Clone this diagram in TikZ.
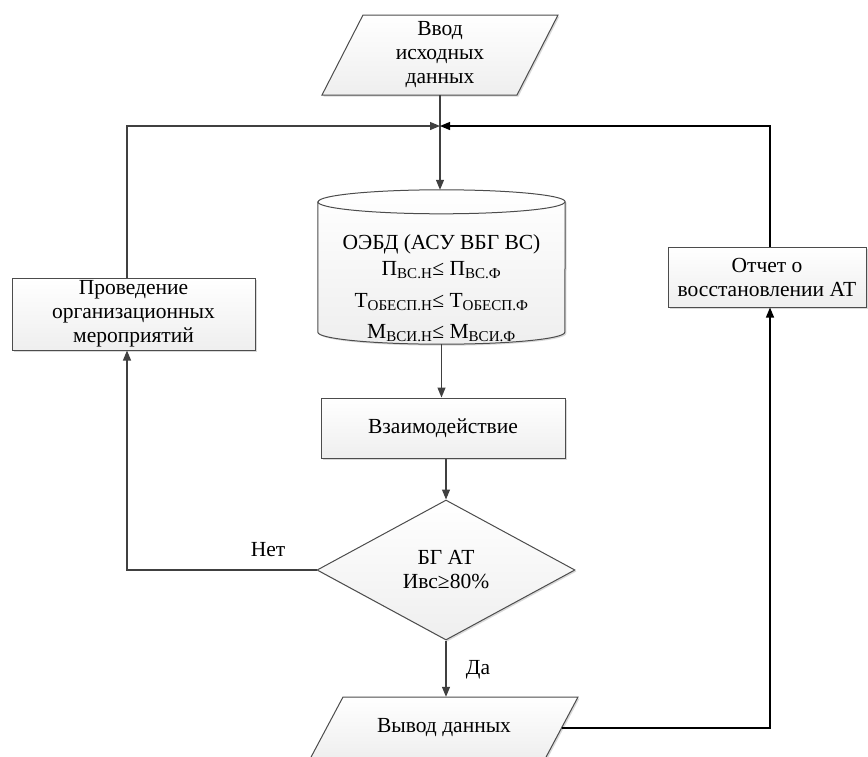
\documentclass[tikz,border=0pt]{standalone}
\usepackage{fontspec}
\setmainfont{Liberation Serif}
\usetikzlibrary{shapes.geometric, arrows.meta, shadows, calc}

\newcommand{\fsz}{\fontsize{21.5}{24}\selectfont}

\begin{document}
\begin{tikzpicture}[x=1pt, y=-1pt,
    box/.style={draw=black!70, line width=1pt, top color=white, bottom color=gray!13,
      drop shadow={shadow xshift=1.5pt, shadow yshift=-1.5pt, opacity=0.3},
      font=\fsz, align=center, inner sep=0pt},
    link/.style={draw=black!75, line width=1.2pt, -{Triangle[length=10pt,width=8pt]}},
    blink/.style={link, draw=black},
    lbl/.style={font=\fsz, align=center, inner sep=0pt}]
                    \useasboundingbox (0,0) rectangle (868,756);

                    % input / output
                    \coordinate (inc) at (440,55);
                    \draw[box] ($(inc)+(-118,40)$) -- ($(inc)+(-77,-40)$) -- ($(inc)+(118,-40)$) -- ($(inc)+(77,40)$) -- cycle;
                    \node[lbl, minimum width=236pt, minimum height=80pt] (in) at (inc) {Ввод\\исходных\\данных};
                    \coordinate (outc) at (444,728);
                    \draw[box] ($(outc)+(-134,31)$) -- ($(outc)+(-101,-31)$) -- ($(outc)+(134,-31)$) -- ($(outc)+(101,31)$) -- cycle;
                    \node[lbl, minimum width=268pt, minimum height=62pt] (out) at (outc) {Вывод данных};

                    \node[box, minimum width=243pt, minimum height=72pt] (prov) at (133.5,314) {Проведение\\организационных\\мероприятий};
                    \node[box, minimum width=198pt, minimum height=60pt] (rep) at (767,277) {Отчет о\\восстановлении АТ};
                    \node[box, minimum width=244pt, minimum height=60pt] (act) at (443,428) {Взаимодействие};
                    \node[box, diamond, minimum width=258pt, minimum height=140pt] (dec) at (446,570) {БГ АТ\\Ивс≥80\%};

                    % database
                    \node[minimum width=247pt, minimum height=154pt, inner sep=0pt] (db) at (441.5,267) {};
                    \draw[box] ($(db.north west)+(0,12)$) -- ($(db.south west)+(0,-12)$)
                      arc[start angle=180, end angle=360, x radius=123.5pt, y radius=12pt]
                      -- ($(db.north east)+(0,12)$)
                      arc[start angle=0, end angle=180, x radius=123.5pt, y radius=12pt] -- cycle;
                    \draw[draw=black!70, line width=1pt] ($(db.north west)+(0,12)$)
                      arc[start angle=180, end angle=360, x radius=123.5pt, y radius=12pt];
                    \node[lbl, anchor=base] (db1) at (441.5,249) {ОЭБД (АСУ ВБГ ВС)};
                    \node[lbl, anchor=base] (db2) at (441.5,275) {П\textsubscript{ВС.Н}≤ П\textsubscript{ВС.Ф}};
                    \node[lbl, anchor=base] (db3) at (441.5,307) {Т\textsubscript{ОБЕСП.Н}≤ Т\textsubscript{ОБЕСП.Ф}};
                    \node[lbl, anchor=base] (db4) at (441.5,338) {М\textsubscript{ВСИ.Н}≤ М\textsubscript{ВСИ.Ф}};

                    \node[lbl] (no) at (268,550) {Нет};
                    \node[lbl] (yes) at (478,670) {Да};

                    \coordinate (jn) at (440,126);
                    \coordinate (lft) at (127,126);
                    \coordinate (rgt) at (770,126);

                    \draw[link] (in.south) -- (in.south |- db.north);
                    \draw[link] (prov.north -| lft) -- (lft) -- (jn);
                    \draw[blink] (rep.north -| rgt) -- (rgt) -- (jn);
                    \draw[link] (db.south) -- (db.south |- act.north);
                    \draw[link] (act.south -| dec.north) -- (dec.north);
                    \draw[link] (dec.west) -- (dec.west -| lft) -- (lft |- prov.south);
                    \draw[link] (dec.south) -- (out.north -| dec.south);
                    \draw[blink] ($(out.east)+(-16.5,0)$) -- (out.east -| rgt) -- (rgt |- rep.south);
                \end{tikzpicture}
\end{document}
